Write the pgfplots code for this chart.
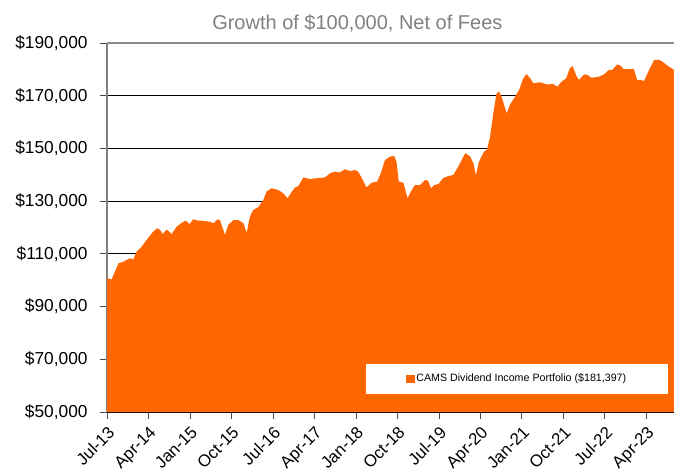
\documentclass[border=0pt]{standalone}
\usepackage{fontspec}
\setmainfont{Liberation Sans}
\usepackage{pgfplots}
\pgfplotsset{compat=1.18}
\definecolor{cams}{RGB}{255,102,0}
\begin{document}
\begin{tikzpicture}
\useasboundingbox (0,0) rectangle (505.5pt,353.25pt);
\begin{axis}[
  at={(80.25pt,44.25pt)}, anchor=south west,
  scale only axis, width=425.25pt, height=276.75pt,
  xmin=0, xmax=123, ymin=50000, ymax=190000,
  axis x line*=bottom, axis y line*=left,
  x axis line style={-, black, line width=0.8pt},
  y axis line style={-, gray, line width=1pt},
  tick align=outside, major tick length=5pt,
  xtick style={black!70, line width=0.6pt},
  ytick style={black!70, line width=0.6pt},
  xtick={0,9,...,117},
  xticklabels={Jul-13,Apr-14,Jan-15,Oct-15,Jul-16,Apr-17,Jan-18,Oct-18,Jul-19,Apr-20,Jan-21,Oct-21,Jul-22,Apr-23},
  xticklabel style={rotate=45, anchor=north east, yshift=0pt, font=\fontsize{12.6}{15}\selectfont},
  ytick={50000,70000,...,190000},
  scaled y ticks=false,
  /pgf/number format/assume math mode=true,
  yticklabel={\$\pgfmathprintnumber[fixed,1000 sep={,}]{\tick}},
  yticklabel style={anchor=east, xshift=-6pt, font=\fontsize{13}{15}\selectfont},
  ymajorgrids, grid style={black, line width=0.6pt},
  legend style={at={(0.723,0.0894)}, anchor=center, draw=none, fill=white,
    font=\fontsize{8}{9.5}\selectfont, inner xsep=30pt, inner ysep=6.5pt,
    nodes={inner sep=1pt}},
  legend image code/.code={\fill[cams] (0pt,-2.8pt) rectangle (6.5pt,2.8pt);},
]
\addplot[fill=cams, draw=none] coordinates {
(0,100700) (1.0,100300) (1.7,103200) (2.5,106400) (3.5,107000) (5.0,108300)
(5.7,107900) (6.4,110800) (7.5,112700) (8.6,115300) (10.0,118400) (10.9,119700)
(11.5,119100) (12.1,117500) (12.8,119100) (13.3,118800) (14.0,117500) (15.1,120300)
(16.2,121800) (17.1,122600) (17.9,121300) (18.7,123100) (19.8,122600) (20.5,122600)
(22.3,122200) (23.1,121600) (24.0,123100) (24.5,122800) (25.6,117200) (26.3,121000)
(27.4,122800) (28.5,122800) (29.6,121600) (30.3,118000) (31.0,124100) (31.7,126600)
(32.8,127700) (33.9,130400) (34.6,133600) (35.7,134900) (37.2,134200) (38.2,133000)
(39.2,131100) (40.1,133600) (40.8,135200) (41.5,135700) (42.6,139000) (44.0,138400)
(45.5,138700) (47.3,139000) (48.4,140600) (49.5,141200) (50.5,140900) (51.6,142100)
(52.7,141400) (53.8,141800) (54.5,141200) (55.5,138000) (56.3,135200) (57.4,137000)
(58.6,137400) (59.4,140600) (60.3,145600) (61.4,146900) (62.3,147100) (62.8,145000)
(63.3,137400) (64.3,137000) (65.2,131100) (65.9,133600) (66.8,136100) (67.9,136100)
(69.0,138000) (69.6,137800) (70.3,134900) (71.0,136100) (71.9,136500) (72.9,138700)
(74.0,139500) (75.1,139900) (76.2,143100) (77.7,148200) (78.7,147100) (79.5,144400)
(80.0,139900) (80.7,145000) (81.8,148800) (82.4,149400) (83.1,154400) (83.8,163300)
(84.5,170900) (85.1,171500) (85.6,169600) (86.7,163300) (87.4,166500) (88.5,169600)
(89.4,172200) (90.3,176600) (91.0,178200) (91.8,176600) (92.5,174700) (93.9,175100)
(95.4,174300) (96.8,174400) (97.7,173400) (98.6,175300) (99.6,176600) (100.4,180400)
(101.0,181300) (101.9,177200) (102.4,176000) (103.5,178100) (104.2,177900) (105.1,176800)
(106.7,177200) (107.8,178100) (108.9,179800) (109.6,179800) (110.7,181900) (111.4,181400)
(112.1,180100) (113.2,180100) (114.3,180100) (115.0,176000) (115.7,176000) (116.5,175600)
(117.6,179800) (118.7,183600) (119.8,183600) (120.5,182900) (121.6,181400) (123.0,179800)
} \closedcycle;
\addlegendentry{CAMS Dividend Income Portfolio (\$181,397)}
\draw[gray!90, line width=1.2pt] (rel axis cs:0,1) -- (rel axis cs:1,1);
\end{axis}
\node[text=black!50, font=\fontsize{15}{18}\selectfont] at (268pt,335.5pt) {Growth of \$100,000, Net of Fees};
\end{tikzpicture}
\end{document}
